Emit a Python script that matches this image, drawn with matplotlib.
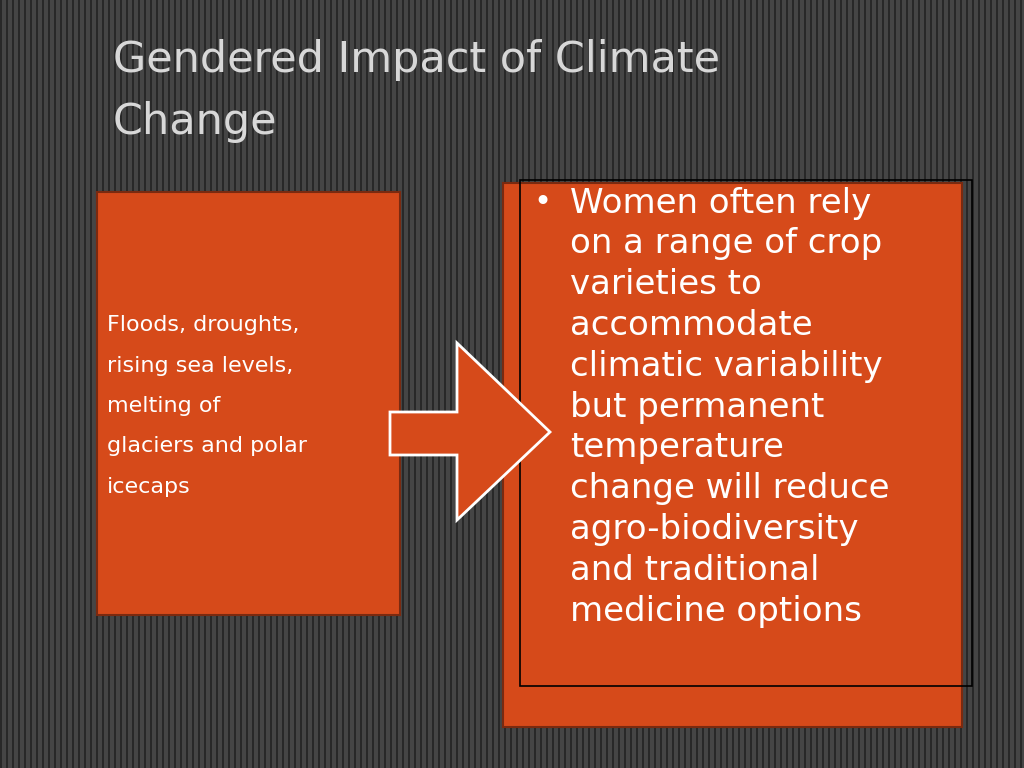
import matplotlib
matplotlib.use("Agg")
import matplotlib.pyplot as plt
import numpy as np
from matplotlib.patches import Rectangle, Polygon

title_lines = ["Gendered Impact of Climate", "Change"]
left_lines = ["Floods, droughts,", "rising sea levels,", "melting of", "glaciers and polar", "icecaps"]
right_lines = ["Women often rely", "on a range of crop", "varieties to", "accommodate",
               "climatic variability", "but permanent", "temperature", "change will reduce",
               "agro-biodiversity", "and traditional", "medicine options"]

fig = plt.figure(figsize=(10.24, 7.68), dpi=100)
ax = fig.add_axes([0, 0, 1, 1])
ax.set_xlim(0, 1024); ax.set_ylim(768, 0); ax.axis("off")

period = 6
row = np.array([0.16 if (i % period) < 2 else 0.27 for i in range(1024)])
bg = np.tile(row, (768, 1))
ax.imshow(bg, cmap="gray", vmin=0, vmax=1, extent=(0, 1024, 768, 0), aspect="auto", zorder=0)

orange = "#d64a1a"
ax.add_patch(Rectangle((97, 192), 303, 423, facecolor=orange, edgecolor="#7a2a10", lw=1.5, zorder=1))
ax.add_patch(Rectangle((503, 183), 459, 544, facecolor=orange, edgecolor="#7a2a10", lw=1.5, zorder=1))
ax.add_patch(Rectangle((520, 180), 452, 506, facecolor="none", edgecolor="black", lw=1.2, zorder=2))

arrow = [(390, 412), (457, 412), (457, 343), (550, 432), (457, 520), (457, 455), (390, 455)]
ax.add_patch(Polygon(arrow, closed=True, facecolor=orange, edgecolor="white", lw=2, zorder=3))

for i, t in enumerate(title_lines):
    ax.text(113, 60 + i * 62, t, color="#d8d8d8", fontsize=31, va="center", ha="left", zorder=4)
for i, t in enumerate(left_lines):
    ax.text(107, 325 + i * 40.5, t, color="white", fontsize=16, va="center", ha="left", zorder=4)
ax.text(533, 203, "•", color="white", fontsize=22, va="center", ha="left", zorder=4)
for i, t in enumerate(right_lines):
    ax.text(570, 203 + i * 40.8, t, color="white", fontsize=24.5, va="center", ha="left", zorder=4)

fig.savefig("out.png", dpi=100)
